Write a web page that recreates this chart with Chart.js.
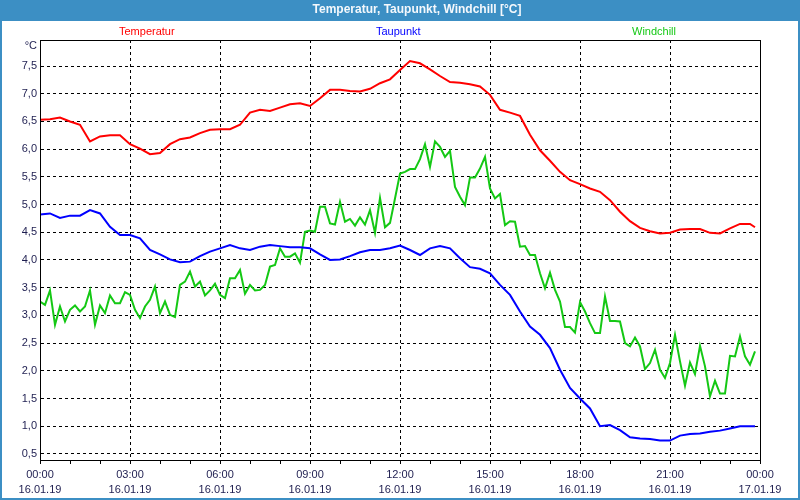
<!DOCTYPE html>
<html>
<head>
<meta charset="utf-8">
<script src="https://cdn.jsdelivr.net/npm/chart.js@4"></script>
<style>
  body { margin: 0; background: #fff; }
  canvas { display: block; }
</style>
</head>
<body>
<canvas id="chart" width="800" height="500"></canvas>
<script>
// Chart data
const title = "Temperatur, Taupunkt, Windchill [°C]";
const seriesNames = ["Temperatur", "Taupunkt", "Windchill"];
const xTimeLabels = ["00:00", "03:00", "06:00", "09:00", "12:00", "15:00", "18:00", "21:00", "00:00"];
const xDateLabels = ["16.01.19", "16.01.19", "16.01.19", "16.01.19", "16.01.19", "16.01.19", "16.01.19", "16.01.19", "17.01.19"];

// every 20 minutes, last value at 23:50
const temperatur = [
  6.53, 6.54, 6.57, 6.50, 6.44, 6.14, 6.23, 6.25, 6.25, 6.09, 6.01, 5.91,
  5.93, 6.09, 6.18, 6.21, 6.29, 6.35, 6.36, 6.36, 6.44, 6.66, 6.71, 6.69,
  6.75, 6.81, 6.83, 6.78, 6.92, 7.07, 7.07, 7.05, 7.04, 7.09, 7.19, 7.26,
  7.43, 7.59, 7.55, 7.44, 7.32, 7.21, 7.20, 7.17, 7.13, 6.98, 6.71, 6.66,
  6.60, 6.26, 5.98, 5.79, 5.59, 5.44, 5.37, 5.29, 5.23, 5.08, 4.87, 4.70,
  4.58, 4.52, 4.48, 4.49, 4.55, 4.56, 4.56, 4.49, 4.48, 4.57, 4.65, 4.65,
  4.59
];
const taupunkt = [
  4.82, 4.84, 4.76, 4.80, 4.80, 4.90, 4.84, 4.60, 4.45, 4.45, 4.39, 4.18,
  4.10, 4.01, 3.96, 3.97, 4.07, 4.15, 4.21, 4.27, 4.21, 4.18, 4.24, 4.27,
  4.25, 4.23, 4.23, 4.21, 4.10, 4.00, 4.01, 4.07, 4.14, 4.18, 4.18, 4.21,
  4.26, 4.18, 4.09, 4.21, 4.25, 4.21, 4.03, 3.87, 3.84, 3.76, 3.55, 3.37,
  3.07, 2.80, 2.65, 2.41, 2.02, 1.69, 1.50, 1.32, 1.00, 1.02, 0.93, 0.80,
  0.78, 0.77, 0.74, 0.74, 0.83, 0.86, 0.87, 0.90, 0.92, 0.96, 1.00, 1.00,
  1.00
];
// every 10 minutes
const windchill = [
  3.25, 3.19, 3.45, 2.83, 3.16, 2.89, 3.10, 3.18, 3.07, 3.16, 3.45, 2.83,
  3.18, 3.04, 3.36, 3.22, 3.22, 3.42, 3.37, 3.10, 2.95, 3.16, 3.28, 3.52,
  3.04, 3.25, 3.01, 2.97, 3.55, 3.61, 3.79, 3.52, 3.61, 3.36, 3.45, 3.57,
  3.37, 3.31, 3.67, 3.67, 3.82, 3.39, 3.55, 3.45, 3.46, 3.55, 3.88, 3.91,
  4.21, 4.06, 4.06, 4.12, 3.95, 4.51, 4.53, 4.51, 4.96, 4.96, 4.66, 4.64,
  5.05, 4.69, 4.74, 4.62, 4.77, 4.64, 4.90, 4.49, 5.12, 4.59, 4.67, 5.11,
  5.56, 5.59, 5.64, 5.64, 5.82, 6.09, 5.68, 6.14, 6.04, 5.86, 5.97, 5.32,
  5.14, 4.99, 5.49, 5.49, 5.65, 5.86, 5.29, 5.11, 5.19, 4.63, 4.70, 4.69,
  4.24, 4.25, 4.09, 4.09, 3.76, 3.49, 3.77, 3.46, 3.25, 2.79, 2.79, 2.69,
  3.24, 3.07, 2.86, 2.68, 2.68, 3.34, 2.90, 2.90, 2.89, 2.50, 2.44, 2.60,
  2.44, 2.03, 2.14, 2.38, 2.02, 1.87, 2.14, 2.65, 2.17, 1.73, 2.15, 1.94,
  2.45, 2.08, 1.54, 1.82, 1.59, 1.59, 2.27, 2.26, 2.62, 2.26, 2.11, 2.35
];

const smoothMinutes = temperatur.map((_, i) => Math.min(i * 20, 1430));
const windMinutes = windchill.map((_, i) => i * 10);

// Styles
const barColor = "#3c8fc4";
const tickColor = "#1e1e50";
const colors = ["#ff0000", "#0000ff", "#14c814"];
const legendX = [119, 376, 632];

const toPoints = (xs, ys) => ys.map((y, i) => ({ x: xs[i], y }));

const frame = {
  id: "frame",
  beforeDraw(chart) {
    const c = chart.ctx;
    c.save();
    c.fillStyle = "#fff";
    c.fillRect(0, 0, 800, 500);
    c.fillStyle = barColor;
    c.fillRect(0, 0, 800, 21);
    c.font = 'bold 12px "Liberation Sans"';
    c.fillStyle = "#f4f8fc";
    c.textAlign = "center";
    c.textBaseline = "middle";
    c.fillText(title, 417, 10);
    c.font = '11px "Liberation Sans"';
    c.textAlign = "left";
    seriesNames.forEach((n, i) => {
      c.fillStyle = colors[i];
      c.fillText(n, legendX[i], 32);
    });
    c.fillStyle = tickColor;
    c.textAlign = "right";
    c.fillText("°C", 37, 46);
    c.restore();
  },
  afterDraw(chart) {
    const c = chart.ctx;
    const { left, top, right, bottom } = chart.chartArea;
    c.save();
    c.strokeStyle = "#000";
    c.lineWidth = 1;
    c.strokeRect(left + 0.5, top + 0.5, right - left, bottom - top);
    c.strokeStyle = barColor;
    c.lineWidth = 2;
    c.strokeRect(1, 1, 798, 498);
    c.restore();
  }
};

new Chart(document.getElementById("chart"), {
  type: "line",
  data: {
    datasets: [
      { label: seriesNames[0], data: toPoints(smoothMinutes, temperatur), borderColor: colors[0] },
      { label: seriesNames[1], data: toPoints(smoothMinutes, taupunkt), borderColor: colors[1] },
      { label: seriesNames[2], data: toPoints(windMinutes, windchill), borderColor: colors[2] }
    ]
  },
  options: {
    responsive: false,
    animation: false,
    layout: { padding: { top: 40, right: 40, left: 0, bottom: 0 } },
    elements: {
      line: { borderWidth: 2, tension: 0, fill: false },
      point: { radius: 0 }
    },
    plugins: { legend: { display: false }, tooltip: { enabled: false } },
    scales: {
      x: {
        type: "linear",
        min: 0,
        max: 1440,
        afterFit(scale) { scale.height = 40; },
        border: { color: "#000", width: 1, dash: [3, 3] },
        grid: {
          color: (ctx) => (ctx.tick && ctx.tick.value % 180 === 0 ? "#000" : "rgba(0,0,0,0)"),
          lineWidth: 1,
          tickColor: "#000",
          tickLength: 4
        },
        ticks: {
          stepSize: 60,
          autoSkip: false,
          maxRotation: 0,
          minRotation: 0,
          padding: 3,
          color: tickColor,
          font: { family: "Liberation Sans", size: 11, lineHeight: "15px" },
          callback: (v) => (v % 180 === 0 ? [xTimeLabels[v / 180], xDateLabels[v / 180]] : "")
        }
      },
      y: {
        min: 0.39,
        max: 7.97,
        afterFit(scale) { scale.width = 40; },
        border: { color: "#000", width: 1, dash: [3, 3] },
        grid: { color: "#000", lineWidth: 1, drawTicks: false },
        ticks: {
          stepSize: 0.5,
          includeBounds: false,
          padding: 3,
          color: tickColor,
          font: { family: "Liberation Sans", size: 11 },
          callback: (v) => v.toFixed(1).replace(".", ",")
        }
      }
    }
  },
  plugins: [frame]
});
</script>
</body>
</html>
